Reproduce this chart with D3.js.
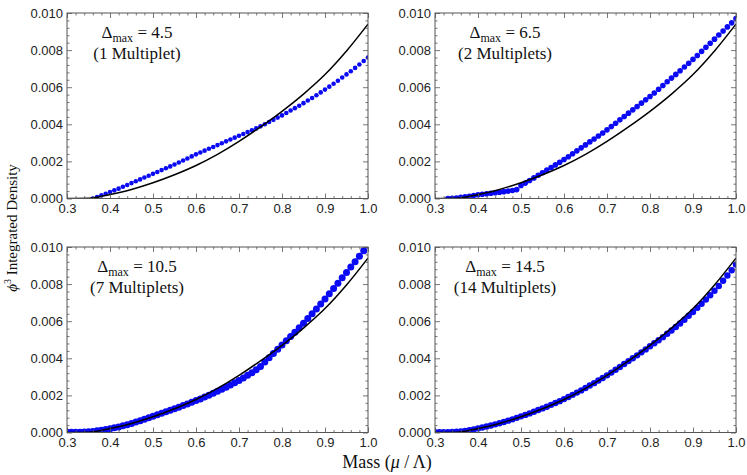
<!DOCTYPE html>
<html>
<head>
<meta charset="utf-8">
<script src="https://cdn.jsdelivr.net/npm/d3@7"></script>
<style>
  body { margin: 0; background: #fff; }
  svg { display: block; }
  .serif { font-family: "Liberation Serif", "Times New Roman", serif; fill: #111; }
</style>
</head>
<body>
<svg id="chart" width="747" height="475"></svg>
<script>
// curva exacta (negra), la misma en los cuatro paneles
const exactMass = [0.30, 0.35, 0.375, 0.40, 0.45, 0.50, 0.55, 0.60, 0.65, 0.70, 0.75, 0.80, 0.85, 0.90, 0.95, 1.00];
const exactDensity = [0, 0.00001, 0.00009, 0.00021, 0.00049, 0.00085, 0.00128, 0.00178, 0.00238, 0.00308, 0.00386, 0.00470, 0.00563, 0.00668, 0.00795, 0.00940];

// puntos azules, un valor cada 0.01 en masa
const massStep = 0.01;
const blueStart = [0.36, 0.33, 0.30, 0.30];

const blue1 = [
  0, 0.00008, 0.00017, 0.00026, 0.00035, 0.00044, 0.00053, 0.00063, 0.00073, 0.00083,
  0.00093, 0.00103, 0.00113, 0.00123, 0.00133, 0.00143, 0.00153, 0.00163, 0.00173, 0.00183,
  0.00194, 0.00205, 0.00216, 0.00227, 0.00238, 0.00248, 0.00258, 0.00268, 0.00278, 0.00288,
  0.00298, 0.00308, 0.00318, 0.00328, 0.00338, 0.00348, 0.00358, 0.00368, 0.00378, 0.00389,
  0.00400, 0.00412, 0.00424, 0.00436, 0.00448, 0.00461, 0.00474, 0.00487, 0.00500, 0.00514,
  0.00528, 0.00542, 0.00557, 0.00572, 0.00587, 0.00603, 0.00619, 0.00635, 0.00652, 0.00669,
  0.00686, 0.00704, 0.00722, 0.00741, 0.00760
];
const blue2 = [
  0, 0.00001, 0.00003, 0.00006, 0.00009, 0.00012, 0.00016, 0.00020, 0.00023, 0.00026,
  0.00028, 0.00031, 0.00034, 0.00037, 0.00040, 0.00043, 0.00048, 0.00070, 0.00083, 0.00097,
  0.00111, 0.00125, 0.00139, 0.00153, 0.00167, 0.00181, 0.00195, 0.00210, 0.00225, 0.00241,
  0.00257, 0.00273, 0.00289, 0.00305, 0.00321, 0.00337, 0.00353, 0.00370, 0.00388, 0.00406,
  0.00424, 0.00442, 0.00460, 0.00478, 0.00496, 0.00514, 0.00532, 0.00550, 0.00569, 0.00589,
  0.00609, 0.00629, 0.00649, 0.00669, 0.00689, 0.00709, 0.00729, 0.00750, 0.00771, 0.00793,
  0.00815, 0.00837, 0.00859, 0.00881, 0.00903, 0.00925, 0.00947, 0.00970
];
const blue3 = [
  0.00001, 0.00001, 0.00002, 0.00002, 0.00003, 0.00004, 0.00006, 0.00009, 0.00012, 0.00016,
  0.00020, 0.00025, 0.00030, 0.00036, 0.00042, 0.00049, 0.00056, 0.00064, 0.00072, 0.00080,
  0.00088, 0.00096, 0.00104, 0.00112, 0.00120, 0.00128, 0.00136, 0.00145, 0.00154, 0.00163,
  0.00172, 0.00181, 0.00191, 0.00201, 0.00211, 0.00222, 0.00233, 0.00244, 0.00256, 0.00268,
  0.00280, 0.00294, 0.00308, 0.00322, 0.00338, 0.00356, 0.00380, 0.00403, 0.00426, 0.00449,
  0.00472, 0.00495, 0.00518, 0.00541, 0.00565, 0.00589, 0.00614, 0.00640, 0.00666, 0.00693,
  0.00720, 0.00748, 0.00776, 0.00805, 0.00834, 0.00863, 0.00892, 0.00921, 0.00950, 0.00980,
  0.01010
];
const blue4 = [
  0.00001, 0.00001, 0.00002, 0.00002, 0.00003, 0.00004, 0.00006, 0.00009, 0.00013, 0.00017,
  0.00022, 0.00027, 0.00032, 0.00038, 0.00044, 0.00050, 0.00057, 0.00064, 0.00071, 0.00079,
  0.00087, 0.00095, 0.00103, 0.00112, 0.00121, 0.00130, 0.00139, 0.00149, 0.00159, 0.00169,
  0.00180, 0.00191, 0.00203, 0.00215, 0.00227, 0.00240, 0.00253, 0.00266, 0.00280, 0.00294,
  0.00308, 0.00323, 0.00338, 0.00353, 0.00369, 0.00385, 0.00400, 0.00416, 0.00432, 0.00448,
  0.00465, 0.00481, 0.00497, 0.00514, 0.00532, 0.00550, 0.00569, 0.00588, 0.00608, 0.00629,
  0.00650, 0.00672, 0.00694, 0.00717, 0.00740, 0.00764, 0.00790, 0.00818, 0.00846, 0.00875,
  0.00905
];

const blueSeries = [blue1, blue2, blue3, blue4];
const deltaMax = ["4.5", "6.5", "10.5", "14.5"];
const multiplets = ["(1 Multiplet)", "(2 Multiplets)", "(7 Multiplets)", "(14 Multiplets)"];

const xTicks = [0.3, 0.4, 0.5, 0.6, 0.7, 0.8, 0.9, 1.0];
const yTicks = [0, 0.002, 0.004, 0.006, 0.008, 0.010];

// posiciones de los paneles
const panelPos = [
  { left: 67, top: 13 }, { left: 435, top: 13 },
  { left: 67, top: 247 }, { left: 435, top: 247 }
];
const pw = 301, ph = 185.5;
const dotR = [2.3, 2.8, 3.5, 3.2];

const svg = d3.select("#chart");
const frameColor = "#555";

panelPos.forEach((p, i) => {
  const g = svg.append("g").attr("transform", `translate(${p.left},${p.top})`);
  const x = d3.scaleLinear().domain([0.3, 1.0]).range([0, pw]);
  const y = d3.scaleLinear().domain([0, 0.010]).range([ph, 0]);

  const minorX = d3.range(30, 101, 2).map(v => v / 100).filter(v => !xTicks.some(t => Math.abs(t - v) < 1e-9));
  const minorY = d3.range(0, 101, 4).map(v => v / 10000).filter(v => !yTicks.some(t => Math.abs(t - v) < 1e-9));

  g.append("clipPath").attr("id", "clip" + i)
    .append("rect").attr("width", pw).attr("height", ph);

  const plot = g.append("g").attr("clip-path", `url(#clip${i})`);

  // puntos azules
  const data = blueSeries[i].map((v, k) => ({ m: blueStart[i] + k * massStep, d: v }));
  plot.selectAll("circle")
    .data(data)
    .join("circle")
    .attr("cx", d => x(d.m))
    .attr("cy", d => y(d.d))
    .attr("r", dotR[i])
    .attr("fill", "#0a0af5");

  // curva exacta
  const line = d3.line()
    .x((d, k) => x(exactMass[k]))
    .y(d => y(d))
    .curve(d3.curveMonotoneX);
  plot.append("path")
    .attr("d", line(exactDensity))
    .attr("fill", "none")
    .attr("stroke", "#000")
    .attr("stroke-width", 1.5);

  // ejes (ticks hacia dentro, en los cuatro lados)
  const addAxis = (axis, transform, labels) => {
    const a = g.append("g").attr("transform", transform).call(axis);
    a.select(".domain").remove();
    a.selectAll("line").attr("stroke", frameColor).attr("stroke-width", 0.8);
    if (!labels) a.selectAll("text").remove();
    a.attr("font-size", 13).attr("font-family", "'Liberation Sans', Arial, sans-serif");
    a.selectAll("text").attr("fill", "#222");
    return a;
  };

  addAxis(d3.axisBottom(x).tickValues(xTicks).tickSize(-5).tickPadding(5).tickFormat(d3.format(".1f")), `translate(0,${ph})`, true);
  addAxis(d3.axisBottom(x).tickValues(minorX).tickSize(-2.5).tickFormat(""), `translate(0,${ph})`, false);
  addAxis(d3.axisTop(x).tickValues(xTicks).tickSize(-5).tickFormat(""), "translate(0,0)", false);
  addAxis(d3.axisTop(x).tickValues(minorX).tickSize(-2.5).tickFormat(""), "translate(0,0)", false);
  addAxis(d3.axisLeft(y).tickValues(yTicks).tickSize(-5).tickPadding(4).tickFormat(d3.format(".3f")), "translate(0,0)", true);
  addAxis(d3.axisLeft(y).tickValues(minorY).tickSize(-2.5).tickFormat(""), "translate(0,0)", false);
  addAxis(d3.axisRight(y).tickValues(yTicks).tickSize(-5).tickFormat(""), `translate(${pw},0)`, false);
  addAxis(d3.axisRight(y).tickValues(minorY).tickSize(-2.5).tickFormat(""), `translate(${pw},0)`, false);

  g.append("rect")
    .attr("width", pw).attr("height", ph)
    .attr("fill", "none")
    .attr("stroke", frameColor)
    .attr("stroke-width", 1);

  // anotación
  const t1 = g.append("text").attr("class", "serif")
    .attr("x", 70).attr("y", 25)
    .attr("text-anchor", "middle")
    .style("font-size", "17px");
  t1.append("tspan").text("Δ");
  t1.append("tspan").attr("dy", 4).style("font-size", "12px").text("max");
  t1.append("tspan").attr("dy", -4).text(" = " + deltaMax[i]);

  g.append("text").attr("class", "serif")
    .attr("x", 70).attr("y", 46)
    .attr("text-anchor", "middle")
    .style("font-size", "17px")
    .text(multiplets[i]);
});

// etiquetas de los ejes
const yl = svg.append("text").attr("class", "serif")
  .attr("transform", "translate(17,228) rotate(-90)")
  .attr("text-anchor", "middle")
  .style("font-size", "15px");
yl.append("tspan").style("font-style", "italic").text("ϕ");
yl.append("tspan").attr("dy", -6).style("font-size", "10px").text("3");
yl.append("tspan").attr("dy", 6).text(" Integrated Density");

const xl = svg.append("text").attr("class", "serif")
  .attr("x", 387).attr("y", 468)
  .attr("text-anchor", "middle")
  .style("font-size", "18px");
xl.append("tspan").text("Mass (");
xl.append("tspan").style("font-style", "italic").text("μ");
xl.append("tspan").text(" / Λ)");
</script>
</body>
</html>
